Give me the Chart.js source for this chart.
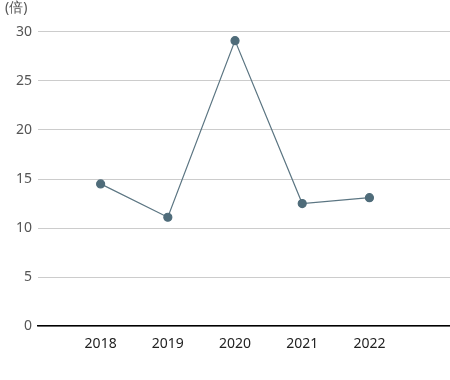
<!DOCTYPE html>
<html>
<head>
<meta charset="utf-8">
<script src="https://cdn.jsdelivr.net/npm/chart.js@4/dist/chart.umd.min.js"></script>
<style>
html,body{margin:0;padding:0;background:#fff;}
#wrap{width:450px;height:380px;}
</style>
</head>
<body>
<div id="wrap"><canvas id="c" width="450" height="380"></canvas></div>
<script>
const years = [2018, 2019, 2020, 2021, 2022];
const values = [14.5, 11.1, 29.1, 12.5, 13.1];
const yTicks = [0, 5, 10, 15, 20, 25, 30];
const unitLabel = '(倍)';

const FONT = '"Noto Sans", "Open Sans", sans-serif';

new Chart(document.getElementById('c'), {
  type: 'line',
  data: {
    datasets: [{
      data: years.map((y, i) => ({x: y, y: values[i]})),
      borderColor: '#5b7582',
      borderWidth: 1.2,
      backgroundColor: '#4f6c7a',
      pointBackgroundColor: '#4f6c7a',
      pointBorderColor: '#4f6c7a',
      pointRadius: 4,
      pointHoverRadius: 4,
      tension: 0
    }]
  },
  options: {
    responsive: false,
    animation: false,
    layout: {autoPadding: false, padding: {top: 0, left: 5, right: 0, bottom: 19}},
    plugins: {
      legend: {display: false},
      tooltip: {enabled: false},
      title: {
        display: true,
        text: unitLabel,
        align: 'start',
        color: '#555',
        font: {family: FONT, size: 14, weight: 'normal'},
        padding: {top: 0, bottom: 15}
      }
    },
    scales: {
      x: {
        type: 'linear',
        min: 2017.068,
        max: 2023.199,
        afterBuildTicks: s => { s.ticks = years.map(v => ({value: v})); },
        ticks: {
          color: '#222',
          font: {family: FONT, size: 14},
          padding: 9,
          autoSkip: false,
          maxRotation: 0,
          callback: v => String(v)
        },
        grid: {display: false, drawTicks: false},
        border: {display: true, color: '#000', width: 1.5}
      },
      y: {
        min: 0,
        max: 30,
        afterBuildTicks: s => { s.ticks = yTicks.map(v => ({value: v})); },
        afterFit: s => { s.width = 33; },
        ticks: {
          color: '#555',
          font: {family: FONT, size: 14},
          padding: 6
        },
        grid: {color: '#cccccc', lineWidth: 1, drawTicks: false},
        border: {display: false}
      }
    }
  }
});
</script>
</body>
</html>
